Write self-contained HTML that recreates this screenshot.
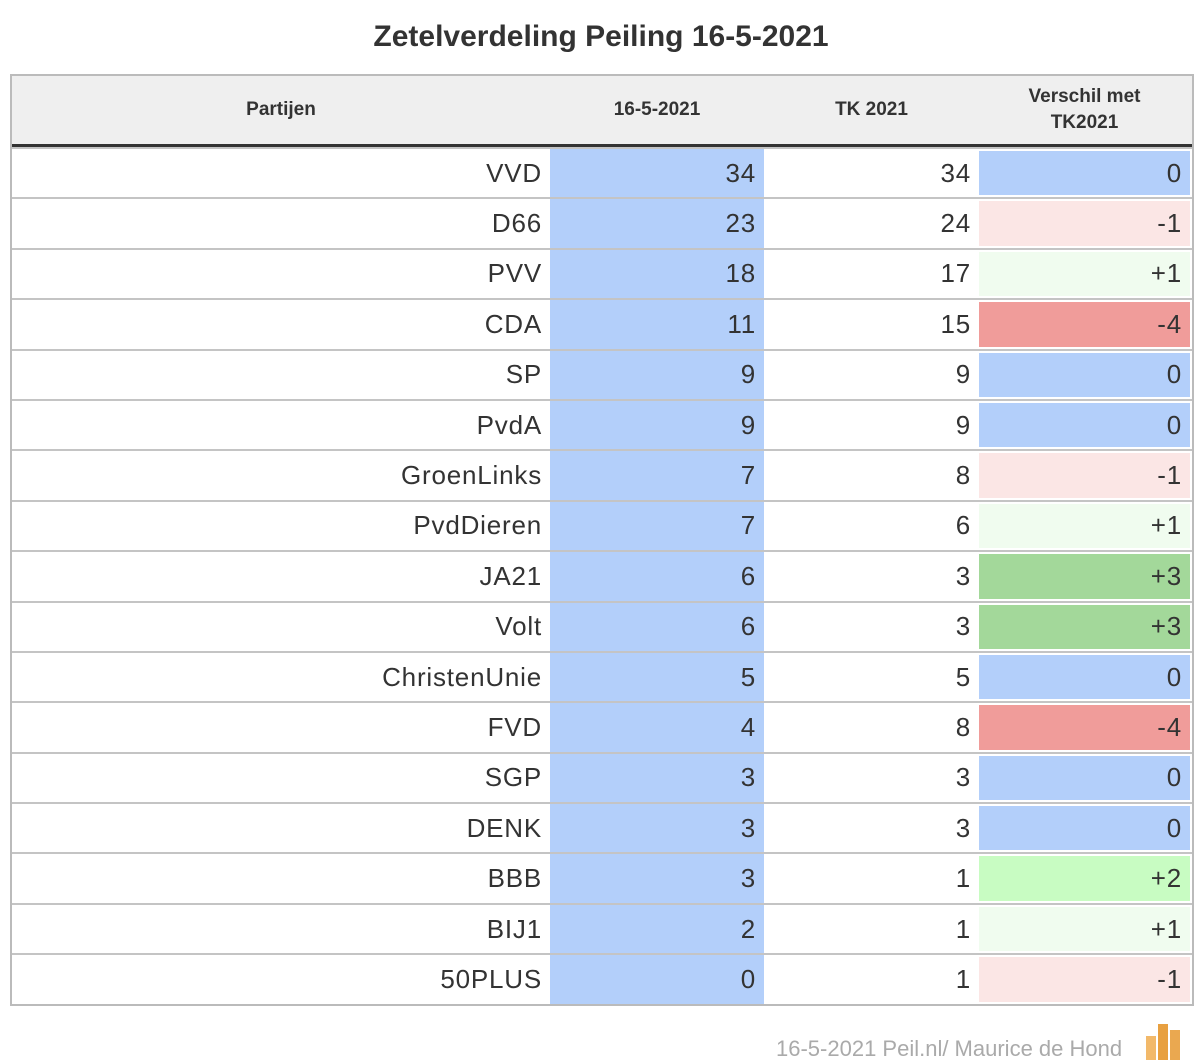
<!DOCTYPE html>
<html><head><meta charset="utf-8"><style>
body{margin:0;width:1202px;height:1060px;background:#fff;font-family:"Liberation Sans",sans-serif;position:relative;overflow:hidden;color:#333}
.t{position:absolute;left:0;width:1202px;top:20px;text-align:center;font-size:30px;font-weight:bold;color:#333}
.tbl{position:absolute;left:10px;top:74px;width:1180px;border:2px solid #bbb}
.hd{height:68px;background:#efefef;border-bottom:3px solid #333;display:flex;font-weight:bold;font-size:19px;color:#333}
.hd div{display:flex;align-items:center;justify-content:center;text-align:center;line-height:26px}
.r{display:flex;height:48.4px;border-top:2px solid #c4c4c4;font-size:26px;letter-spacing:0.8px}
.r:first-of-type{border-top:none}
.r div{display:flex;align-items:center;justify-content:flex-end;padding-right:8px;box-sizing:border-box}
.c1{width:538px}.c2{width:214px;background:#b3cffa}.c3{width:215px}.c4{width:211px;margin:2px 0}
.z{background:#b3cffa}.m1{background:#fbe6e5}.p1{background:#f0fcef}.m4{background:#f09c9a}.p3{background:#a3d89a}.p2{background:#c8fcc2}
.f{position:absolute;left:776px;top:1036px;font-size:22px;color:#aaa}
</style></head><body>
<div class="t">Zetelverdeling Peiling 16-5-2021</div>
<div class="tbl">
<div class="hd"><div style="width:538px">Partijen</div><div style="width:214px">16-5-2021</div><div style="width:215px">TK 2021</div><div style="width:211px">Verschil met<br>TK2021</div></div>
<div class="r"><div class="c1">VVD</div><div class="c2">34</div><div class="c3">34</div><div class="c4 z">0</div></div>
<div class="r"><div class="c1">D66</div><div class="c2">23</div><div class="c3">24</div><div class="c4 m1">-1</div></div>
<div class="r"><div class="c1">PVV</div><div class="c2">18</div><div class="c3">17</div><div class="c4 p1">+1</div></div>
<div class="r"><div class="c1">CDA</div><div class="c2">11</div><div class="c3">15</div><div class="c4 m4">-4</div></div>
<div class="r"><div class="c1">SP</div><div class="c2">9</div><div class="c3">9</div><div class="c4 z">0</div></div>
<div class="r"><div class="c1">PvdA</div><div class="c2">9</div><div class="c3">9</div><div class="c4 z">0</div></div>
<div class="r"><div class="c1">GroenLinks</div><div class="c2">7</div><div class="c3">8</div><div class="c4 m1">-1</div></div>
<div class="r"><div class="c1">PvdDieren</div><div class="c2">7</div><div class="c3">6</div><div class="c4 p1">+1</div></div>
<div class="r"><div class="c1">JA21</div><div class="c2">6</div><div class="c3">3</div><div class="c4 p3">+3</div></div>
<div class="r"><div class="c1">Volt</div><div class="c2">6</div><div class="c3">3</div><div class="c4 p3">+3</div></div>
<div class="r"><div class="c1">ChristenUnie</div><div class="c2">5</div><div class="c3">5</div><div class="c4 z">0</div></div>
<div class="r"><div class="c1">FVD</div><div class="c2">4</div><div class="c3">8</div><div class="c4 m4">-4</div></div>
<div class="r"><div class="c1">SGP</div><div class="c2">3</div><div class="c3">3</div><div class="c4 z">0</div></div>
<div class="r"><div class="c1">DENK</div><div class="c2">3</div><div class="c3">3</div><div class="c4 z">0</div></div>
<div class="r"><div class="c1">BBB</div><div class="c2">3</div><div class="c3">1</div><div class="c4 p2">+2</div></div>
<div class="r"><div class="c1">BIJ1</div><div class="c2">2</div><div class="c3">1</div><div class="c4 p1">+1</div></div>
<div class="r"><div class="c1">50PLUS</div><div class="c2">0</div><div class="c3">1</div><div class="c4 m1">-1</div></div>
</div>
<div class="f">16-5-2021 Peil.nl/ Maurice de Hond</div>
<svg style="position:absolute;left:1146px;top:1022px" width="40" height="38"><rect x="0" y="14" width="10" height="24" fill="#f2b96a"/><rect x="12" y="2" width="10" height="36" fill="#e8a040"/><rect x="24" y="8" width="10" height="30" fill="#eaa850"/></svg>
</body></html>
